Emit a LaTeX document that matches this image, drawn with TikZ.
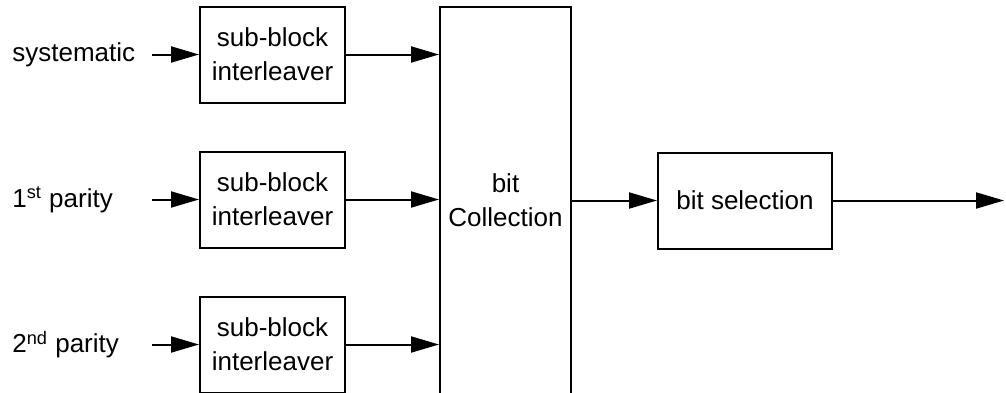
\documentclass[tikz,border=0pt]{standalone}
\usepackage{fontspec}
\setmainfont{Liberation Sans}
\usepackage{tikz}
\usetikzlibrary{positioning, arrows.meta}

\begin{document}
\begin{tikzpicture}[
    x = 1pt, y = 1pt, > = {Triangle[length = 14pt, width = 8pt]},
    font = \fontsize{13}{17}\selectfont,
    block/.style = {
      rectangle, draw, line width = 1pt, align = center,
      inner sep = 0pt, minimum width = 72.5pt, minimum height = 48pt
    },
    collect/.style = {
      block, minimum width = 65.5pt, minimum height = 194pt
    },
    select/.style = {
      block, minimum width = 87pt
    },
    path/.style = {
      ->, line width = 1pt
    },
    source/.style = {
      anchor = west, inner sep = 0pt
    },
    ]

    \useasboundingbox (0,0) rectangle (503,-196);

    % draw collection and selection
    \node  [collect]  (coll)  at  (252.75,-100.25)  {bit\\Collection};
    \node  [select]  (bitsel)  [right = 42.5pt of coll]  {bit selection};
    \coordinate  [right = 85.5pt of bitsel]  (out);

    % draw interleavers
    \foreach \i/\y/\txt in {1/-27.25/systematic,
                            2/-99.75/1\textsuperscript{st} parity,
                            3/-172.25/2\textsuperscript{nd} parity}
    {
    \node  [block]  (sbi\i)  at  (136.25,\y)  {sub-block\\interleaver};
    \node  [source]  (src\i)  at  (6,\y)  {\txt};
    \coordinate  (in\i)  at  (76,\y);
    }

    % draw paths
    \foreach \i in {1, ..., 3}
    \draw  [path]  (in\i)  --  (sbi\i);

    \foreach \i in {1, ..., 3}
    \draw  [path]  (sbi\i)  --  (sbi\i -| coll.west);

    \draw  [path]  (coll)  --  (bitsel);
    \draw  [path]  (bitsel)  --  (out);
\end{tikzpicture}
\end{document}
